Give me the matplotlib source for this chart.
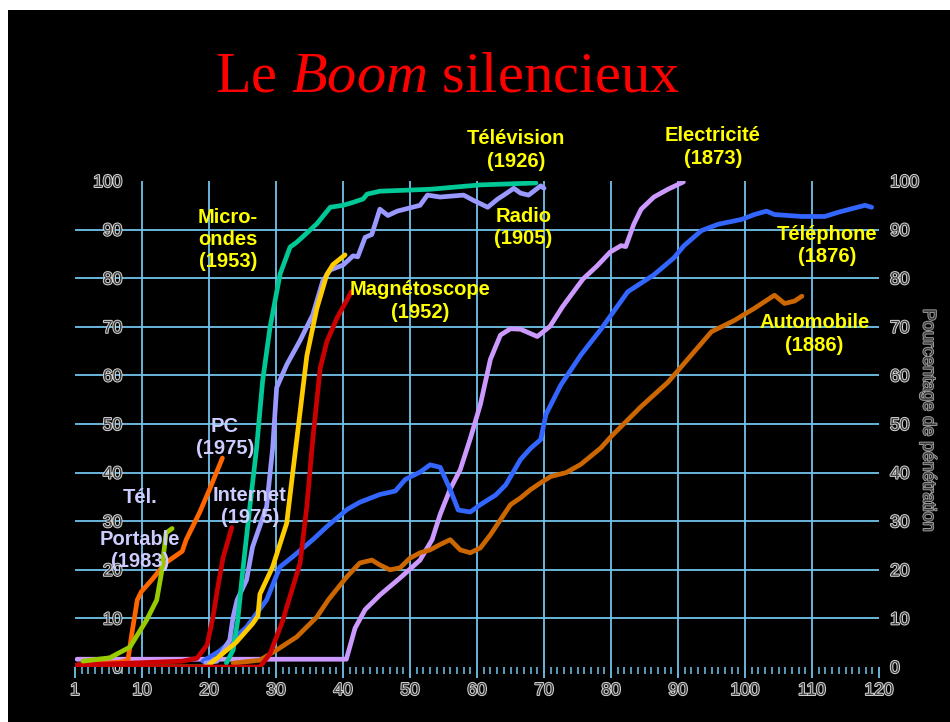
import matplotlib
matplotlib.use("Agg")
import matplotlib.pyplot as plt
import matplotlib.patheffects as pe
from matplotlib.ticker import MultipleLocator

# ---------------- data (years since invention -> % penetration) ----------------
elec_x = [0.3, 40.5, 41.8, 43.3, 45.5, 48.5, 51.5, 53.3, 54.5, 56, 57.5, 59, 60.5, 62, 63.5,
          65, 66.5, 69, 70.9, 72.8, 75.8, 77.9, 79.9, 81.5, 82.2, 83.4, 84.5, 86.4, 88.5, 90.8]
elec_y = [1.6, 1.6, 8, 11.8, 14.8, 18.3, 22, 26.2, 31.4, 36.6, 40.6, 47, 54, 63.3, 68.3,
          69.6, 69.5, 68, 70.1, 74.2, 79.8, 82.5, 85.4, 86.7, 86.5, 91.1, 94.2, 96.7, 98.3, 99.8]

tel_x = [19.1, 21.6, 25.6, 28.6, 30.6, 32.5, 35.5, 37.6, 40.6, 42.5, 45.5, 47.8, 49.3, 51.5, 53,
         54.5, 56, 57.2, 59, 60.5, 62.8, 64.3, 66.5, 68, 69.5, 70.3, 72.5, 75.5, 78.5, 82.5,
         86.4, 89.4, 90.9, 93.5, 96, 99.5, 101.4, 103.2, 104.4, 108.5, 111.9, 114, 117.9, 118.9]
tel_y = [1.2, 3.3, 8.2, 13.8, 20.6, 22.7, 26.2, 28.9, 32.4, 33.9, 35.5, 36.2, 38.6, 40.1, 41.6,
         41.1, 36.5, 32.3, 31.9, 33.4, 35.4, 37.5, 42.7, 45, 46.8, 52, 58, 64.2, 69.5, 77.2,
         80.7, 84.2, 86.7, 89.8, 91.1, 92.1, 93.1, 93.8, 93.1, 92.7, 92.7, 93.6, 95, 94.6]

auto_x = [23.6, 27.6, 30.1, 33.1, 36.1, 37.8, 40.6, 42.5, 44.3, 45.5, 47, 48.5, 50, 51.5, 53,
          54.5, 56, 57.5, 59, 60.5, 62, 63.5, 65, 66.5, 68, 69.5, 71, 73.3, 75.5, 78.5, 80,
          84.5, 88.5, 91.5, 95, 98.4, 101.4, 104.4, 105.9, 107.4, 108.5]
auto_y = [0.8, 1.4, 3.5, 6.2, 10.3, 13.8, 18.6, 21.4, 22, 21, 20, 20.4, 22.4, 23.5, 24.1,
          25.2, 26.2, 24.1, 23.5, 24.5, 27.2, 30.3, 33.4, 34.8, 36.5, 37.9, 39.2, 40, 41.7, 45.1, 47.4,
          53.6, 58.6, 63.4, 69, 71.3, 73.8, 76.5, 74.8, 75.3, 76.3]

radio_x = [19.5, 21.2, 23.1, 23.6, 24.2, 25.6, 26.5, 28.6, 29.5, 30.1, 31.6, 33.6, 35.5, 37, 38.1,
           40, 41.5, 42.2, 43.3, 44.3, 45.5, 46.7, 48.1, 51.5, 52.6, 54.5, 58, 59.5, 61.6, 63.1,
           64, 65.5, 66.5, 67.7, 69.5, 70]
radio_y = [0.8, 1.2, 5.6, 10.3, 13.8, 17.9, 24.7, 33, 45, 57.5, 62.2, 67.2, 72.5, 79.5, 81.7,
           82.7, 84.6, 84.4, 88.4, 89, 94.2, 92.9, 93.8, 95, 97.1, 96.7, 97.1, 96, 94.6, 96.3,
           97.1, 98.5, 97.5, 97.1, 99, 98.5]

tv_x = [22.6, 23.6, 24.3, 24.6, 25, 26.1, 27.1, 28, 29.1, 30.6, 32.1, 33.1, 36.1, 38.1, 40,
        41.5, 43, 43.6, 45.5, 53, 60.5, 68.8]
tv_y = [0.8, 3.5, 9.7, 13.8, 19.3, 33, 45, 58.8, 69.8, 80.8, 86.4, 87.4, 91.2, 94.6, 95,
        95.6, 96.3, 97.3, 97.9, 98.3, 99.2, 99.6]

micro_x = [0.3, 19.6, 24, 26.5, 27.3, 27.6, 29.5, 31.6, 32.5, 33.1, 34.6, 36.1, 37.6, 38.5, 40.3]
micro_y = [0, 0, 5, 8.9, 10.5, 15, 20.6, 29.6, 40, 46.8, 64, 73.8, 80.8, 82.8, 84.8]

vcr_x = [0.3, 27.6, 29.1, 31, 31.6, 33.6, 34.6, 35.5, 36.6, 37.6, 39.1, 41.3]
vcr_y = [0, 0, 2.7, 9.5, 12.3, 21.4, 33, 47, 61.5, 67, 71.8, 77.3]

internet_x = [0.3, 16, 18.2, 19.7, 20.6, 21.2, 22.1, 23.4]
internet_y = [0.4, 1.2, 1.8, 4.5, 10.3, 15.5, 22.5, 28.7]

pc_x = [0.3, 6.7, 7.9, 8.5, 9.3, 9.9, 11.5, 13.6, 16, 16.6, 18.6, 20.1, 22]
pc_y = [0.4, 1, 1.4, 7, 13.8, 15.5, 18, 21.5, 23.8, 26.2, 31.8, 36.6, 43]

mobile_x = [1.2, 5.2, 8.2, 10.7, 12.2, 12.9, 13.3, 13.6, 14.5]
mobile_y = [1.2, 1.9, 4.1, 9.7, 13.8, 19.3, 24.1, 27.6, 28.5]

x_ticks = [0, 10, 20, 30, 40, 50, 60, 70, 80, 90, 100, 110, 120]
x_tick_labels = ["1", "10", "20", "30", "40", "50", "60", "70", "80", "90", "100", "110", "120"]
y_ticks = [0, 10, 20, 30, 40, 50, 60, 70, 80, 90, 100]

# ---------------- figure ----------------
plt.rcParams['mathtext.fontset'] = 'custom'
plt.rcParams['mathtext.rm'] = 'Liberation Serif'
plt.rcParams['mathtext.it'] = 'Liberation Serif:italic'

W, H = 950, 722
fig = plt.figure(figsize=(W / 100, H / 100), dpi=100, facecolor='white')
bg = fig.add_axes([8 / W, 0, 1 - 8 / W, 1 - 10 / H])
bg.set_facecolor('black')
bg.set_xticks([]); bg.set_yticks([])
for s in bg.spines.values():
    s.set_visible(False)

ax = fig.add_axes([75 / W, 1 - 667 / H, (879 - 75) / W, (667 - 181) / H])
ax.set_facecolor('none')
ax.set_xlim(0, 120)
ax.set_ylim(0, 100)
for s in ax.spines.values():
    s.set_visible(False)

grid_c = '#72c4ec'
ax.set_xticks(x_ticks)
ax.set_xticklabels(x_tick_labels)
ax.xaxis.set_minor_locator(MultipleLocator(1))
ax.set_yticks(y_ticks)
ax.grid(True, color=grid_c, lw=1.3)
xg = ax.xaxis.get_gridlines()
xg[0].set_visible(False); xg[-1].set_visible(False)
yg = ax.yaxis.get_gridlines()
yg[0].set_visible(False); yg[-1].set_visible(False)
ax.set_axisbelow(True)

ax.tick_params(axis='x', which='major', length=8, width=1.3, color=grid_c, direction='out', pad=3.5)
ax.tick_params(axis='x', which='minor', length=5, width=1.1, color=grid_c, direction='out')
ax.tick_params(axis='y', length=0, pad=-34)

emboss = [pe.withStroke(linewidth=1.4, foreground='#d8d8d8')]
for t in ax.get_xticklabels() + ax.get_yticklabels():
    t.set_fontfamily('Liberation Sans'); t.set_fontsize(12.5)
    t.set_color('#3c3c3c'); t.set_path_effects(emboss)

ax2 = ax.twinx()
ax2.set_ylim(0, 100)
ax2.set_yticks(y_ticks)
for s in ax2.spines.values():
    s.set_visible(False)
ax2.tick_params(axis='y', length=0, pad=8)
for t in ax2.get_yticklabels():
    t.set_fontfamily('Liberation Sans'); t.set_fontsize(12.5)
    t.set_color('#3c3c3c'); t.set_path_effects(emboss)

fig.text(928 / W, 1 - 420 / H, 'Pourcentage de pénétration', rotation=270,
         ha='center', va='center', family='Liberation Sans', fontsize=13,
         color='#3c3c3c', path_effects=[pe.withStroke(linewidth=1.3, foreground='#a0a0a0')])

# ---------------- lines ----------------
lw = 3.4
kw = dict(lw=lw, solid_joinstyle='round', solid_capstyle='round')
ax.plot(elec_x, elec_y, color='#cc99ff', **kw)
ax.plot(tel_x, tel_y, color='#3366ff', **kw)
ax.plot(auto_x, auto_y, color='#cc6600', **kw)
ax.plot(radio_x, radio_y, color='#9999ff', **kw)
ax.plot(tv_x, tv_y, color='#00c896', **kw)
ax.plot(micro_x, micro_y, color='#ffcc00', **kw)
ax.plot(vcr_x, vcr_y, color='#cc0000', **kw)
ax.plot(pc_x, pc_y, color='#ff6600', **kw)
ax.plot(internet_x, internet_y, color='#cc0000', **kw)
ax.plot(mobile_x, mobile_y, color='#99cc00', **kw)

# ---------------- labels ----------------
yel = '#ffff00'
lav = '#ccccff'
lab = dict(family='Liberation Sans', fontweight='bold', fontsize=14.5,
           ha='center', va='center', linespacing=1.22, clip_on=False)
ax.text(22.8, 88.0, 'Micro-\nondes\n(1953)', color=yel, **lab)
ax.text(65.8, 106.4, 'Télévision\n(1926)', color=yel, **lab)
ax.text(66.9, 90.5, 'Radio\n(1905)', color=yel, **lab)
ax.text(95.2, 107.0, 'Electricité\n(1873)', color=yel, **lab)
ax.text(112.2, 86.8, 'Téléphone\n(1876)', color=yel, **lab)
ax.text(110.4, 68.5, 'Automobile\n(1886)', color=yel, **lab)
ax.text(51.5, 75.3, 'Magnétoscope\n(1952)', color=yel, **lab)
ax.text(22.4, 47.2, 'PC\n(1975)', color=lav, **lab)
ax.text(26.1, 33.0, 'Internet\n(1975)', color=lav, **lab)
ax.text(9.7, 34.8, 'Tél.', color=lav, **lab)
ax.text(9.7, 23.9, 'Portable\n(1983)', color=lav, **lab)

# ---------------- title ----------------
fig.text(447 / W, 1 - 92 / H, r'Le $\mathit{Boom}$ silencieux', fontsize=42, color='#ff0000',
         family='Liberation Serif', ha='center', va='baseline')

fig.savefig('out.png', dpi=100, facecolor=fig.get_facecolor())
